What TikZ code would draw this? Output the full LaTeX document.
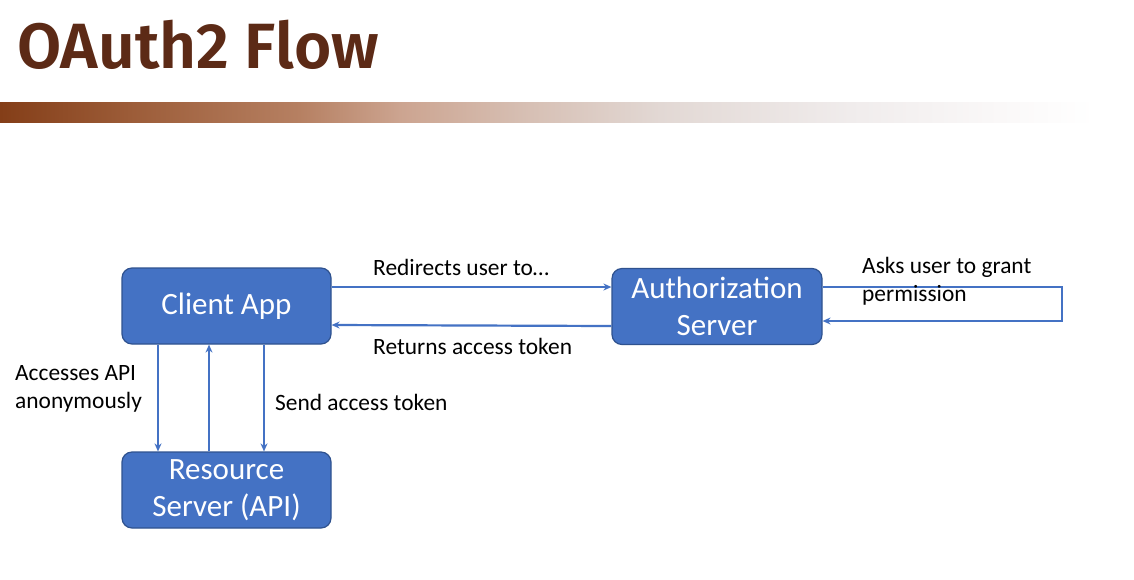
\documentclass[tikz,border=0pt]{standalone}
\usepackage{fontspec}
\setmainfont{Carlito}
\newfontfamily\titlefont{Fira Sans}[UprightFont=* SemiBold]
\usetikzlibrary{arrows.meta}
\definecolor{boxfill}{RGB}{68,114,196}
\definecolor{boxline}{RGB}{47,82,143}
\definecolor{titlebrown}{RGB}{92,42,22}
\definecolor{b0}{RGB}{132,62,24}
\definecolor{b1}{RGB}{156,92,56}
\definecolor{b2}{RGB}{182,128,98}
\definecolor{b3}{RGB}{204,164,144}
\definecolor{b4}{RGB}{214,190,178}
\definecolor{b5}{RGB}{226,216,212}
\definecolor{b6}{RGB}{240,236,236}
\definecolor{b7}{RGB}{250,248,248}
\tikzset{
  flowbox/.style={draw=boxline, line width=1.2pt, fill=boxfill, rounded corners=10pt,
    minimum width=209pt, minimum height=76pt, inner sep=0pt, text=white,
    align=center, font=\fontsize{31}{37}\selectfont},
  flowlabel/.style={anchor=west, inner sep=0pt, align=left, text=black,
    font=\fontsize{23.4}{28}\selectfont},
  arr/.style={draw=boxfill, line width=2.2pt, -{Stealth[length=8pt,width=7pt]}},
}
\begin{document}
\begin{tikzpicture}[x=1pt,y=-1pt]
  \useasboundingbox (0,0) rectangle (1134,579);
  \fill[white] (0,0) rectangle (1134,579);

  % heading
  \node[anchor=base west, inner sep=0pt, text=titlebrown,
        font=\titlefont\fontsize{64}{70}\selectfont] (title) at (17,68) {OAuth2 Flow};

  % gradient rule under the heading
  \shade[left color=b0, right color=b1] (0,102) rectangle (130,122);
  \shade[left color=b1, right color=b2] (129.5,102) rectangle (300,122);
  \shade[left color=b2, right color=b3] (299.5,102) rectangle (400,122);
  \shade[left color=b3, right color=b4] (399.5,102) rectangle (520,122);
  \shade[left color=b4, right color=b5] (519.5,102) rectangle (660,122);
  \shade[left color=b5, right color=b6] (659.5,102) rectangle (850,122);
  \shade[left color=b6, right color=b7] (849.5,102) rectangle (1000,122);
  \shade[left color=b7, right color=white] (999.5,102) rectangle (1095,122);

  % parties
  \node[flowbox] (client) at (226.5,306) {Client App};
  \node[flowbox, minimum width=210pt] (auth) at (717,306.5) {Authorization\\Server};
  \node[flowbox] (res) at (226.5,490) {Resource\\Server (API)};

  % client <-> authorization server
  \draw[arr] ([yshift=19pt]client.east) -- ([yshift=19.5pt]auth.west);
  \draw[arr] ([yshift=-19.5pt]auth.west) -- ([yshift=-19pt]client.east);
  \node[flowlabel] (lredir) at (373,267) {Redirects user to…};
  \node[flowlabel] (lret) at (373,346) {Returns access token};

  % consent loop on the authorization server
  \draw[arr] ([yshift=19.5pt]auth.east) -- ++(239,0) |- ([yshift=-14.5pt]auth.east);
  \node[flowlabel] (lask) at (862,281) {Asks user to grant\\permission};

  % client <-> resource server
  \draw[arr] ([xshift=-68.5pt]client.south) -- ([xshift=-68.5pt]res.north);
  \draw[arr] ([xshift=-17.5pt]res.north) -- ([xshift=-17.5pt]client.south);
  \draw[arr] ([xshift=37.5pt]client.south) -- ([xshift=37.5pt]res.north);
  \node[flowlabel] (lanon) at (15,389) {Accesses API\\anonymously};
  \node[flowlabel] (lsend) at (275,402) {Send access token};
\end{tikzpicture}
\end{document}
